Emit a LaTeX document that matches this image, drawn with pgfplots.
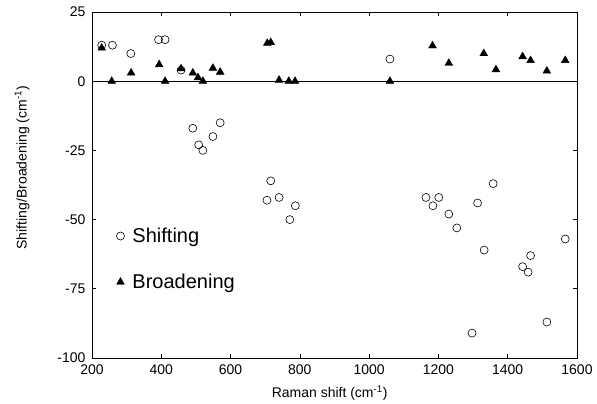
\documentclass[border=0pt]{standalone}
\usepackage{fontspec}
\setmainfont{Liberation Sans}
\usepackage{pgfplots}
\pgfplotsset{compat=1.18}

\begin{document}
\begin{tikzpicture}
\useasboundingbox (-92pt,-46pt) rectangle (505pt,358pt);
\begin{axis}[
    scale only axis,
    width=485pt, height=346pt,
    xmin=200, xmax=1600,
    ymin=-100, ymax=25,
    xtick={200,400,...,1600},
    ytick={-100,-75,-50,-25,0,25},
    tick align=inside,
    major tick length=4pt,
    axis line style={line width=0.8pt},
    tick style={line width=0.6pt, black},
    /pgf/number format/assume math mode=true,
    /pgf/number format/1000 sep={},
    tick label style={font=\fontsize{14}{17}\selectfont},
    xticklabel style={yshift=-3pt},
    yticklabel style={xshift=-3pt},
    label style={font=\fontsize{14}{17}\selectfont},
    xlabel={Raman shift (cm\textsuperscript{-1})},
    ylabel={Shifting/Broadening (cm\textsuperscript{-1})},
    xlabel style={at={(rel axis cs:0.49,-0.101)}, anchor=center},
    ylabel style={at={(rel axis cs:-0.144,0.55)}, anchor=center},
    legend cell align=left,
    legend image code/.code={\path[draw=none] (-5pt,0pt) -- (10pt,0pt); \draw[#1] plot coordinates {(0pt,0pt)};},
    legend style={at={(0.048,0.286)}, anchor=west, draw=none, fill=none,
        font=\fontsize{20}{24}\selectfont, row sep=26pt, inner sep=0pt},
]
\draw[line width=0.8pt] (axis cs:200,0) -- (axis cs:1600,0);

% Shifting
\addplot[only marks, mark=o, mark size=4pt, mark options={line width=0.6pt, black}] coordinates {
    (228,13) (259,13) (312,10) (392,15) (411,15) (457,4)
    (491,-17) (508,-23) (520,-25) (549,-20) (570,-15)
    (705,-43) (716,-36) (740,-42) (771,-50) (787,-45)
    (1060,8)
    (1164,-42) (1184,-45) (1201,-42) (1230,-48) (1253,-53)
    (1297,-91) (1313,-44) (1332,-61) (1358,-37)
    (1443,-67) (1459,-69) (1466,-63) (1513,-87) (1566,-57)
};
\addlegendentry{Shifting}

% Broadening
\addplot[only marks, mark=triangle*, mark size=4.5pt, mark options={black, fill=black}] coordinates {
    (228,12) (257,0) (313,3) (394,6) (411,0) (457,4.5)
    (491,3) (506,1.3) (520,0) (549,4.7) (570,3.3)
    (706,13.7) (716,14) (740,0.4) (768,0) (786,0)
    (1060,0)
    (1183,12.8) (1230,6.5) (1331,10) (1366,4.2)
    (1443,8.9) (1466,7.5) (1513,3.7) (1566,7.5)
};
\addlegendentry{Broadening}
\end{axis}
\end{tikzpicture}
\end{document}
